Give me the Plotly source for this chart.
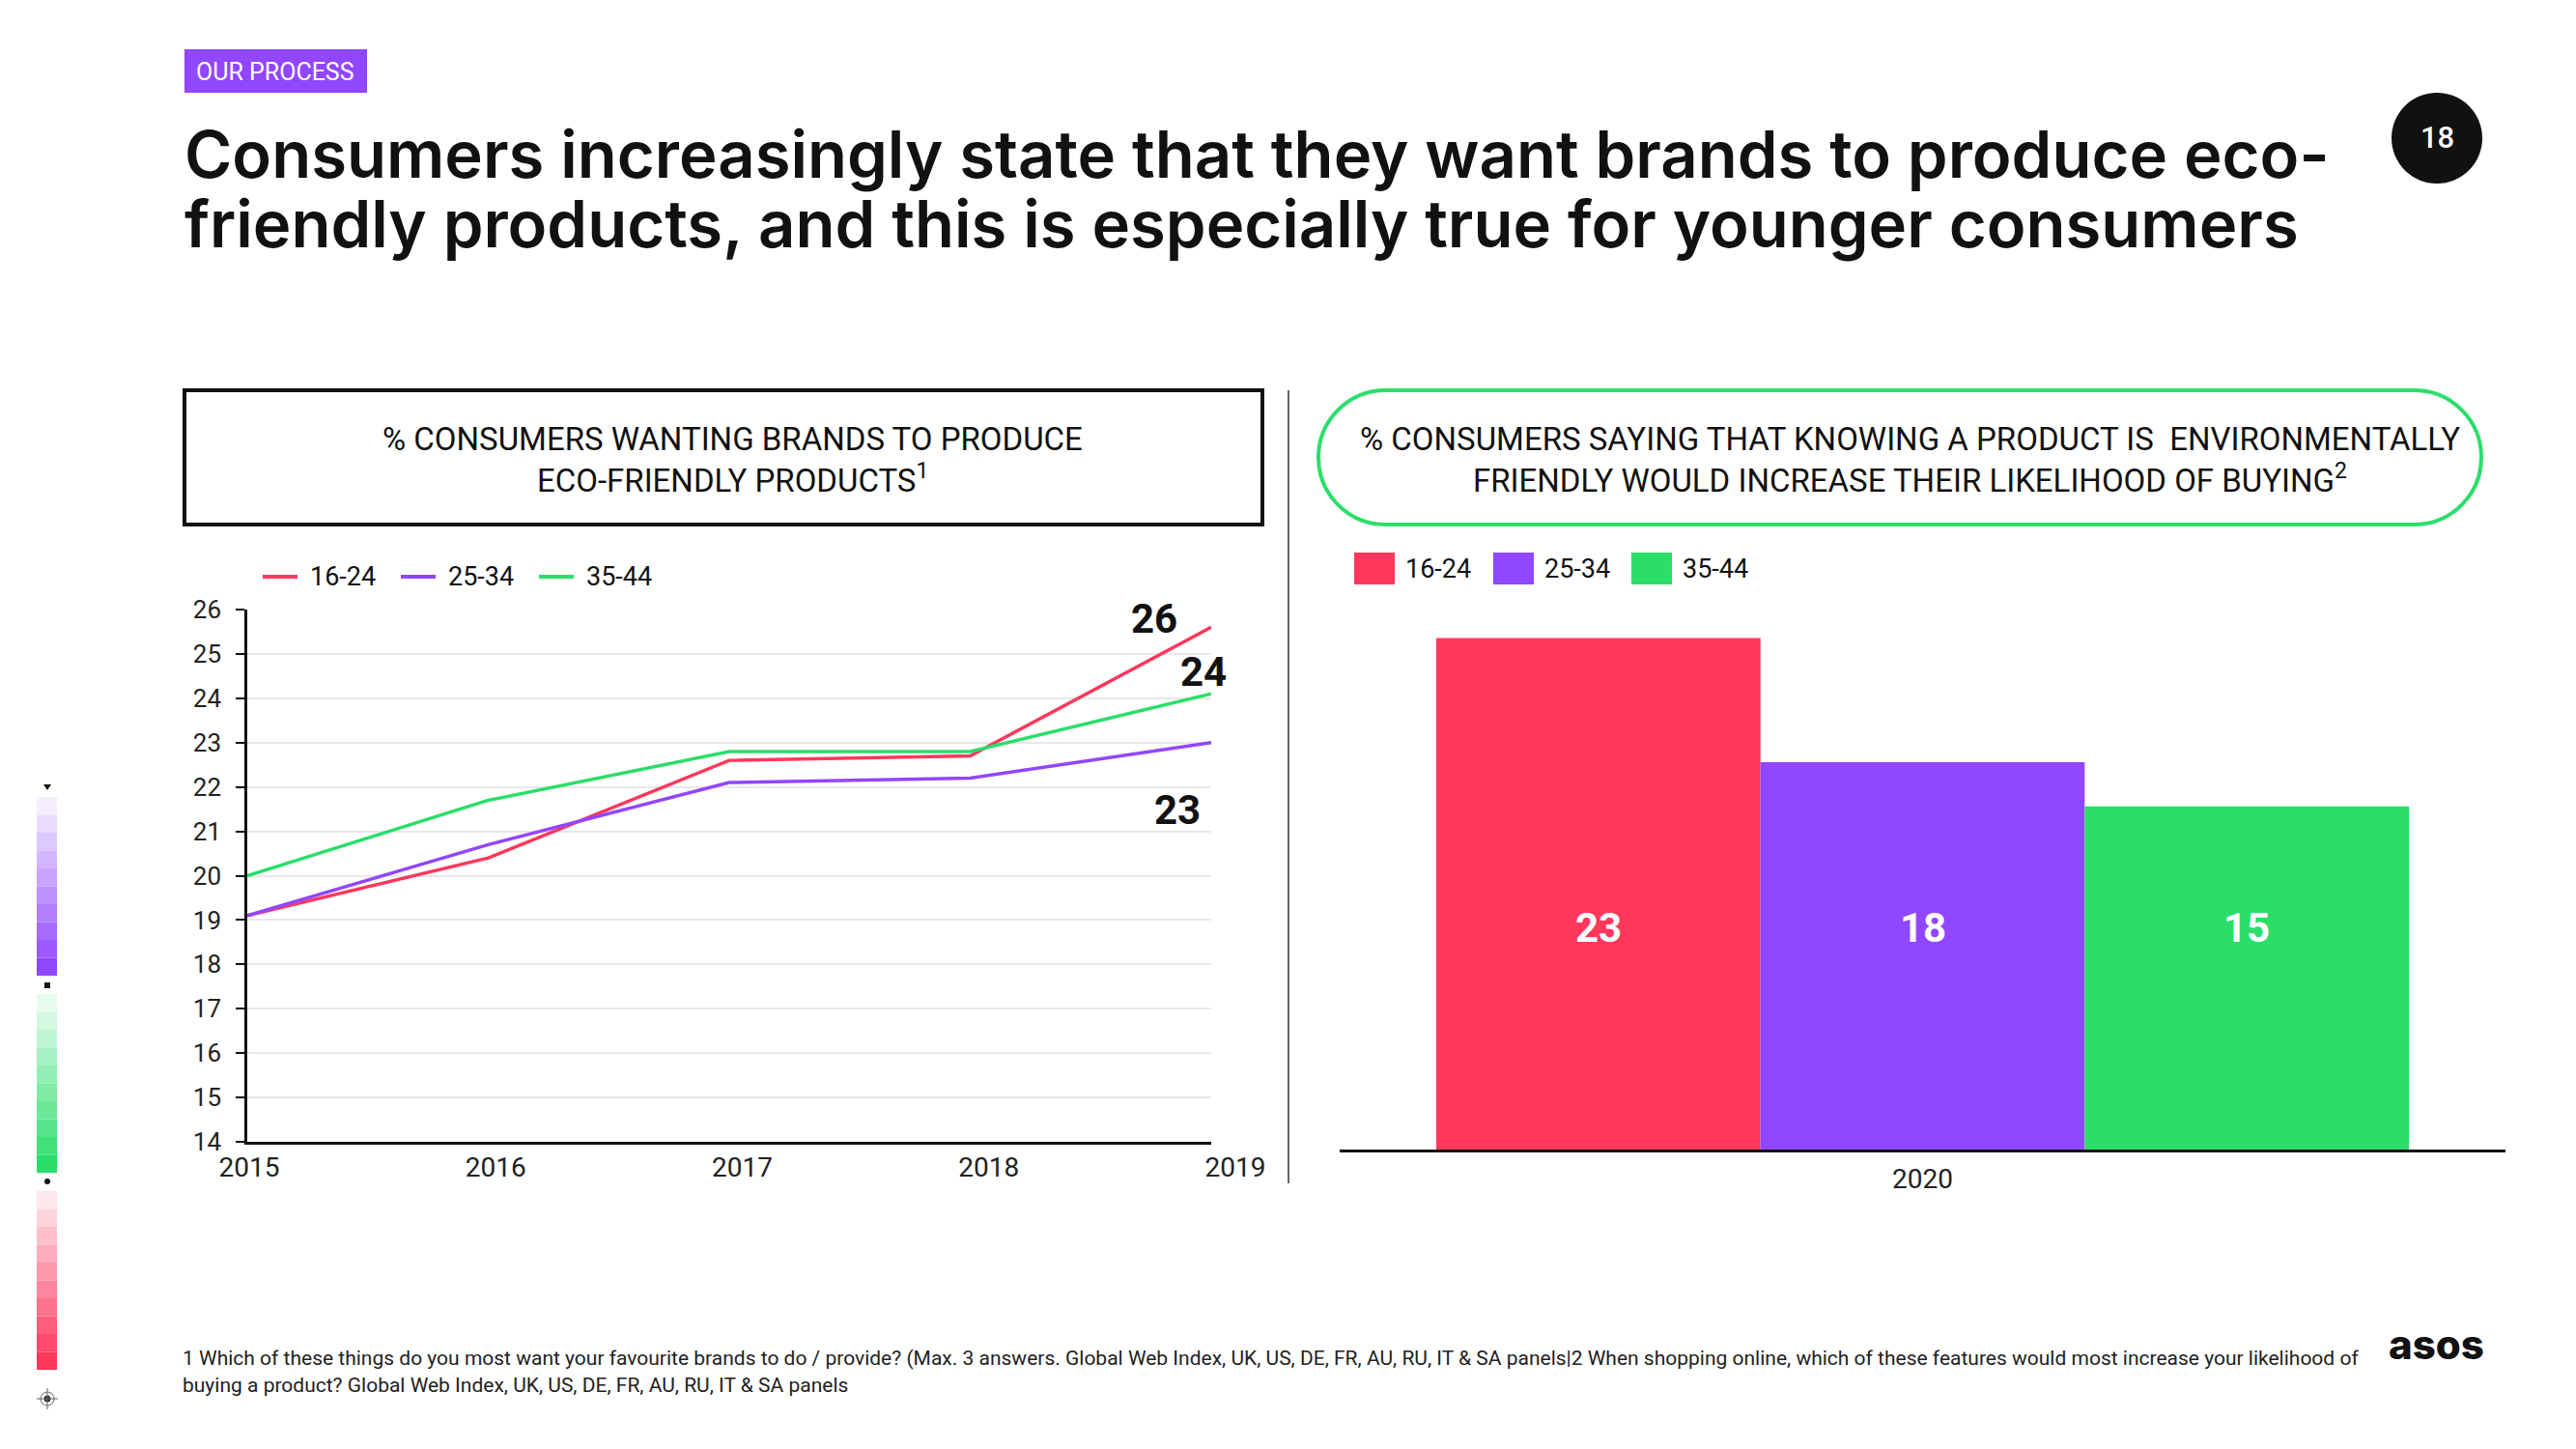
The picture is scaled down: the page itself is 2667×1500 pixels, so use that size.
import plotly.graph_objects as go

W, H = 2667, 1500

# ---------------- data ----------------
years = [2015, 2016, 2017, 2018, 2019]
year_labels = ["2015", "2016", "2017", "2018", "2019"]
age_groups = ["16-24", "25-34", "35-44"]
line_16_24 = [19.1, 20.4, 22.6, 22.7, 25.6]
line_25_34 = [19.1, 20.7, 22.1, 22.2, 23.0]
line_35_44 = [20.0, 21.7, 22.8, 22.8, 24.1]
y_ticks = list(range(14, 27))

bar_category = ["2020"]
bar_values = [23.1, 17.5, 15.5]
bar_labels = ["23", "18", "15"]

colors = ["#FF375C", "#9146FF", "#2BDE6A"]
lines = [line_16_24, line_25_34, line_35_44]

title_lines = ["Consumers increasingly state that they want brands to produce eco-",
               "friendly products, and this is especially true for younger consumers"]
left_box_lines = ["% CONSUMERS WANTING BRANDS TO PRODUCE",
                  "ECO-FRIENDLY PRODUCTS<sup>1</sup>"]
right_box_lines = ["% CONSUMERS SAYING THAT KNOWING A PRODUCT IS  ENVIRONMENTALLY",
                   "FRIENDLY WOULD INCREASE THEIR LIKELIHOOD OF BUYING<sup>2</sup>"]
footer_lines = [
    "1 Which of these things do you most want your favourite brands to do / provide? (Max. 3 answers. Global Web Index, UK, US, DE, FR, AU, RU, IT & SA panels|2 When shopping online, which of these features would most increase your likelihood of",
    "buying a product? Global Web Index, UK, US, DE, FR, AU, RU, IT & SA panels",
]

# page offset of the html body (default 8px margin) is compensated here
OFF = 8


def fx(px):
    return (px - OFF) / W


def fy(py):
    return 1 - (py - OFF) / H


FONT = "Roboto"
TITLE_FONT = "Inter"
INK = "#111111"

fig = go.Figure()

# line chart
for name, vals, col in zip(age_groups, lines, colors):
    fig.add_trace(go.Scatter(x=years, y=vals, mode="lines", name=name,
                             line=dict(color=col, width=3.5), showlegend=False,
                             xaxis="x", yaxis="y", hoverinfo="x+y+name"))

# helper trace carrying the year tick-label axis
fig.add_trace(go.Scatter(x=years, y=line_16_24, mode="lines", opacity=0,
                         showlegend=False, hoverinfo="skip",
                         xaxis="x3", yaxis="y3"))

# bar chart
for name, val, col in zip(age_groups, bar_values, colors):
    fig.add_trace(go.Bar(x=bar_category, y=[val], name=name, marker_color=col,
                         marker_line_width=0, showlegend=False,
                         xaxis="x2", yaxis="y2"))

# ---------------- geometry ----------------
LX0, LX1, LY_TOP, LY_BOT = 256, 1254, 631, 1182
BX0, BX1, BY_TOP, BY_BOT = 1387, 2594, 640, 1190
GROUP_W = 1007
lab_pitch = 255.25
lab_x0 = 258

annotations = []
shapes = []


def txt(x, y, text, size, color=INK, family=FONT, xanchor="center", yanchor="middle",
        weight=None, **kw):
    f = dict(family=family, size=size, color=color)
    if weight:
        f["weight"] = weight
    d = dict(xref="paper", yref="paper", x=fx(x), y=fy(y), text=text, showarrow=False,
             xanchor=xanchor, yanchor=yanchor, font=f)
    d.update(kw)
    annotations.append(d)


# tag
shapes.append(dict(type="rect", xref="paper", yref="paper", x0=fx(191), x1=fx(380),
                   y0=fy(96), y1=fy(51), fillcolor="#9146FF", line_width=0, layer="below"))
txt(285, 74, "OUR PROCESS", 25, color="white")

# title
for i, t in enumerate(title_lines):
    txt(189, 159 + 72 * i, t, 67, family=TITLE_FONT, xanchor="left", weight=600)

# page number
shapes.append(dict(type="circle", xref="paper", yref="paper", x0=fx(2476), x1=fx(2570),
                   y0=fy(190), y1=fy(96), fillcolor=INK, line_width=0))
txt(2523, 143, "18", 31, color="white", weight=500)

# left header box
shapes.append(dict(type="rect", xref="paper", yref="paper", x0=fx(191), x1=fx(1307),
                   y0=fy(543), y1=fy(404), line=dict(color=INK, width=4)))
for i, t in enumerate(left_box_lines):
    txt(759, 454 + 41 * i, t, 33)

# right header pill
px0, px1, py0, py1 = 1365, 2569, 404, 543
r = (py1 - py0) / 2
k = 0.5523 * r
cy = (py0 + py1) / 2


def P(x, y):
    return f"{fx(x):.6f},{fy(y):.6f}"


path = (f"M{P(px0 + r, py0)} L{P(px1 - r, py0)} "
        f"C{P(px1 - r + k, py0)} {P(px1, cy - k)} {P(px1, cy)} "
        f"C{P(px1, cy + k)} {P(px1 - r + k, py1)} {P(px1 - r, py1)} "
        f"L{P(px0 + r, py1)} "
        f"C{P(px0 + r - k, py1)} {P(px0, cy + k)} {P(px0, cy)} "
        f"C{P(px0, cy - k)} {P(px0 + r - k, py0)} {P(px0 + r, py0)} Z")
shapes.append(dict(type="path", xref="paper", yref="paper", path=path,
                   line=dict(color="#2BDE6A", width=4)))
for i, t in enumerate(right_box_lines):
    txt(1977, 454 + 41 * i, t, 33)

# divider
shapes.append(dict(type="line", xref="paper", yref="paper", x0=fx(1334), x1=fx(1334),
                   y0=fy(404), y1=fy(1225), line=dict(color="#333333", width=1.5)))

# line legend (drawn)
lleg_x = [272, 415, 558]
for lx, name, col in zip(lleg_x, age_groups, colors):
    shapes.append(dict(type="line", xref="paper", yref="paper", x0=fx(lx), x1=fx(lx + 36),
                       y0=fy(597), y1=fy(597), line=dict(color=col, width=4)))
    txt(lx + 47, 597, name, 27, xanchor="left")

# line end labels
offsets = [(-59, 9), (-35, -70), (-8, 23)]
for vals, (dx, dy) in zip(lines, offsets):
    annotations.append(dict(xref="x", yref="y", x=years[-1], y=vals[-1],
                            text=f"<b>{round(vals[-1])}</b>", showarrow=False,
                            xanchor="center", yanchor="middle",
                            xshift=dx, yshift=dy,
                            font=dict(family=FONT, size=42, color=INK)))

# bar labels (category index 0 on the bar axis)
bar_px = GROUP_W / 3
for i, lab in enumerate(bar_labels):
    annotations.append(dict(xref="x2", yref="y2", x=0, y=10,
                            text=f"<b>{lab}</b>", showarrow=False,
                            xanchor="center", yanchor="middle",
                            xshift=(i - 1) * bar_px,
                            font=dict(family=FONT, size=42, color="white")))

# bar legend
leg_x = [1402, 1546, 1689]
for lx, name, col in zip(leg_x, age_groups, colors):
    shapes.append(dict(type="rect", xref="paper", yref="paper", x0=fx(lx), x1=fx(lx + 42),
                       y0=fy(605), y1=fy(572), fillcolor=col, line_width=0))
    txt(lx + 51, 589, name, 27, xanchor="left")

# footer
for i, t in enumerate(footer_lines):
    txt(187, 1406 + 28 * i, t, 21, color="#222222", xanchor="left")

# logo
txt(2522, 1391, "asos", 42, family=TITLE_FONT, weight=800)

# left decorative colour strips


def ramp(c0, c1, n=10):
    out = []
    for j in range(n):
        t = j / (n - 1)
        out.append("rgb(%d,%d,%d)" % tuple(round(a + (b - a) * t) for a, b in zip(c0, c1)))
    return out


strips = [(825, ramp((244, 238, 255), (145, 70, 255))),
          (1029, ramp((231, 251, 239), (43, 222, 106))),
          (1233, ramp((255, 231, 236), (255, 55, 92)))]
for top, cols in strips:
    hgt = 185 / 10
    for j, c in enumerate(cols):
        shapes.append(dict(type="rect", xref="paper", yref="paper", x0=fx(38), x1=fx(59),
                           y0=fy(top + (j + 1) * hgt), y1=fy(top + j * hgt),
                           fillcolor=c, line_width=0))
shapes.append(dict(type="path", xref="paper", yref="paper",
                   path=f"M{P(45, 812)} L{P(53, 812)} L{P(49, 818)} Z",
                   fillcolor=INK, line_width=0))
shapes.append(dict(type="rect", xref="paper", yref="paper", x0=fx(46), x1=fx(52),
                   y0=fy(1023), y1=fy(1017), fillcolor=INK, line_width=0))
shapes.append(dict(type="circle", xref="paper", yref="paper", x0=fx(46), x1=fx(52),
                   y0=fy(1226), y1=fy(1220), fillcolor=INK, line_width=0))
shapes.append(dict(type="circle", xref="paper", yref="paper", x0=fx(42), x1=fx(56),
                   y0=fy(1455), y1=fy(1441), line=dict(color="#666", width=1)))
shapes.append(dict(type="circle", xref="paper", yref="paper", x0=fx(45.5), x1=fx(52.5),
                   y0=fy(1451.5), y1=fy(1444.5), fillcolor="#333", line_width=0))
shapes.append(dict(type="line", xref="paper", yref="paper", x0=fx(38), x1=fx(60),
                   y0=fy(1448), y1=fy(1448), line=dict(color="#666", width=1)))
shapes.append(dict(type="line", xref="paper", yref="paper", x0=fx(49), x1=fx(49),
                   y0=fy(1437), y1=fy(1459), line=dict(color="#666", width=1)))

fig.update_layout(
    width=W, height=H,
    margin=dict(l=0, r=0, t=0, b=0, pad=0, autoexpand=False),
    paper_bgcolor="white", plot_bgcolor="white",
    font=dict(family=FONT, color=INK),
    barmode="group", bargap=1 - GROUP_W / (BX1 - BX0), bargroupgap=0,
    showlegend=False,
    xaxis=dict(domain=[fx(LX0), fx(LX1)], range=[years[0], years[-1]], anchor="y",
               showline=True, linecolor=INK, linewidth=2.5, showticklabels=False,
               ticks="", showgrid=False, zeroline=False, automargin=False),
    yaxis=dict(domain=[fy(LY_BOT), fy(LY_TOP)], range=[y_ticks[0], y_ticks[-1]],
               tickvals=y_ticks, anchor="x", showline=True, linecolor=INK, linewidth=2.5,
               ticks="outside", ticklen=9, tickwidth=2, tickcolor=INK,
               showgrid=True, gridcolor="#E8E8E8", gridwidth=1.5, zeroline=False,
               tickfont=dict(family=FONT, size=26, color="#222"), ticklabelstandoff=10,
               automargin=False),
    xaxis3=dict(domain=[fx(LX0), fx(1310)],
                range=[years[0] - (lab_x0 - LX0) / lab_pitch,
                       years[0] + (1310 - lab_x0) / lab_pitch],
                anchor="y3", tickvals=years, ticktext=year_labels, showline=False,
                showgrid=False, zeroline=False, ticks="", automargin=False,
                tickfont=dict(family=FONT, size=28, color="#222"), ticklabelstandoff=6),
    yaxis3=dict(domain=[fy(LY_BOT + 1), fy(LY_BOT)], visible=False, anchor="x3",
                range=[0, 1], automargin=False),
    xaxis2=dict(domain=[fx(BX0), fx(BX1)], type="category", anchor="y2",
                range=[-0.5, 0.5], automargin=False,
                showline=True, linecolor=INK, linewidth=2.5, ticks="", showgrid=False,
                tickfont=dict(family=FONT, size=28, color="#222"), ticklabelstandoff=4),
    yaxis2=dict(domain=[fy(BY_BOT), fy(BY_TOP)], range=[0, 24], visible=False, anchor="x2",
                automargin=False),
    annotations=annotations,
    shapes=shapes,
)

fig.write_html("out.html")
